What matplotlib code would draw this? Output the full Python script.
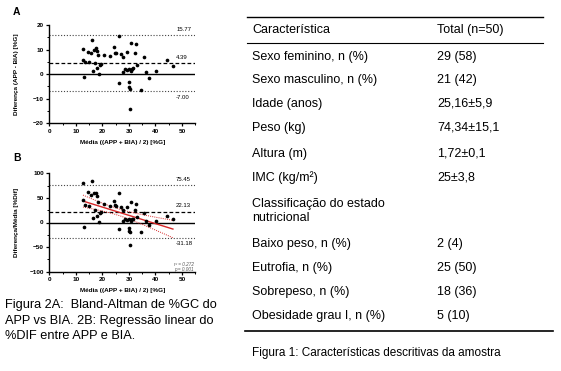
import numpy as np
import matplotlib.pyplot as plt
from matplotlib.lines import Line2D

plt.rcParams['font.family'] = ['Liberation Sans', 'DejaVu Sans']

# medias (APP + BIA) / 2, mesmo eixo x nos dois paineis
mean_pct = [12.7, 12.8, 13.1, 13.6, 14.5, 15.0, 15.6, 16.2, 16.8, 17.5,
            17.8, 16.6, 17.4, 18.1, 18.5, 18.7, 19.0, 19.5, 20.6, 22.9,
            24.4, 24.8, 25.3, 26.1, 26.1, 26.9, 27.9, 29.2, 27.9, 28.7,
            29.3, 29.9, 30.2, 30.5, 30.5, 30.7, 30.7, 31.1, 31.5, 32.3,
            32.8, 33.1, 34.7, 35.7, 36.6, 37.6, 40.1, 44.4, 46.6, 30.0]
# painel A: diferenca APP - BIA
diff_a = [10.3, 5.8, -1.3, 4.8, 8.9, 5.0, 8.8, 13.8, 10.0, 10.5,
          9.6, 1.4, 4.4, 2.4, 7.8, 0.1, 3.6, 4.0, 7.9, 7.5,
          10.9, 8.6, 8.6, 15.4, -3.6, 8.2, 6.9, 9.2, 1.0, 2.1,
          1.6, -3.2, -5.1, -6.0, -14.0, 12.8, 1.2, 2.0, 2.4, 8.5,
          12.2, 3.7, -6.6, 6.9, 1.0, -1.7, 1.4, 5.7, 3.3, 1.9]
# painel B: diferenca / media [%Dif]
diff_b = [81.1, 45.3, -9.9, 35.3, 61.4, 33.3, 56.4, 85.2, 59.5, 60.0,
          53.9, 8.4, 25.3, 13.3, 42.2, 0.5, 18.9, 20.5, 38.3, 32.8,
          44.7, 34.7, 34.0, 59.0, -13.8, 30.5, 24.7, 31.5, 3.6, 7.3,
          5.5, -10.7, -16.9, -19.7, -45.9, 41.7, 3.9, 6.4, 7.6, 26.3,
          37.2, 11.2, -19.0, 19.3, 2.7, -4.5, 3.5, 12.8, 7.1, 6.3]

limits_a = [15.77, 4.39, -7.00]
limits_b = [75.45, 22.13, -31.18]
labels_a = ['15.77', '4.39', '-7.00']
labels_b = ['75.45', '22.13', '-31.18']

row_names = ['Sexo feminino, n (%)', 'Sexo masculino, n (%)', 'Idade (anos)',
             'Peso (kg)', 'Altura (m)', 'IMC (kg/m²)',
             'Classificação do estado', 'nutricional', 'Baixo peso, n (%)',
             'Eutrofia, n (%)', 'Sobrepeso, n (%)', 'Obesidade grau I, n (%)']
row_values = ['29 (58)', '21 (42)', '25,16±5,9', '74,34±15,1', '1,72±0,1',
              '25±3,8', '', '', '2 (4)', '25 (50)', '18 (36)', '5 (10)']

caption_2 = ['Figura 2A:  Bland-Altman de %GC do',
             'APP vs BIA. 2B: Regressão linear do',
             '%DIF entre APP e BIA.']

W, H = 561, 371
fig = plt.figure(figsize=(W / 100, H / 100), dpi=100)


def px(x0, y0, x1, y1):
    return [x0 / W, 1 - y1 / H, (x1 - x0) / W, (y1 - y0) / H]


def bland(ax, y, limits, labels, ylim, step, ylabel):
    ax.scatter(mean_pct, y, s=7, c='black', linewidths=0, zorder=4)
    ax.axhline(0, color='black', lw=1.0, zorder=2)
    ax.axhline(limits[0], color='#444444', ls=(0, (1, 1.6)), lw=0.8)
    ax.axhline(limits[1], color='black', ls=(0, (3, 1.8)), lw=0.9)
    ax.axhline(limits[2], color='#444444', ls=(0, (1, 1.6)), lw=0.8)
    off = (ylim[1] - ylim[0]) * 0.035
    ax.text(47.8, limits[0] + off, labels[0], fontsize=4.3, va='bottom')
    ax.text(47.8, limits[1] + off, labels[1], fontsize=4.3, va='bottom')
    ax.text(47.8, limits[2] - off, labels[2], fontsize=4.3, va='top')
    ax.set_xlim(0, 55)
    ax.set_ylim(*ylim)
    ax.set_xticks(range(0, 51, 10))
    ax.set_xticks(range(5, 56, 10), minor=True)
    ax.set_yticks(np.arange(ylim[0], ylim[1] + 1, step))
    ax.set_yticks(np.arange(ylim[0] + step / 2, ylim[1], step), minor=True)
    for s in ['top', 'right']:
        ax.spines[s].set_visible(False)
    for s in ['left', 'bottom']:
        ax.spines[s].set_linewidth(1.0)
    ax.tick_params(which='major', length=2.5, width=0.9, pad=1.5, labelsize=4.6)
    ax.tick_params(which='minor', length=1.5, width=0.7)
    for t in ax.get_xticklabels() + ax.get_yticklabels():
        t.set_fontweight('bold')
    ax.set_xlabel('Média ((APP + BIA) / 2) [%G]', fontsize=4.6, fontweight='bold')
    ax.set_ylabel(ylabel, fontsize=4.6, fontweight='bold')
    ax.xaxis.set_label_coords(0.5, -0.17)
    ax.yaxis.set_label_coords(-0.21, 0.5)


ax_a = fig.add_axes(px(49.3, 25, 195.2, 123.3))
bland(ax_a, diff_a, limits_a, labels_a, (-20, 20), 10, 'Diferença (APP - BIA) [%G]')

ax_b = fig.add_axes(px(49.3, 173.3, 195.2, 271.7))
bland(ax_b, diff_b, limits_b, labels_b, (-100, 100), 50, 'Diferença/Média [%Dif]')

# regressao linear de %Dif contra a media, com banda de confianca
x = np.array(mean_pct)
y = np.array(diff_b)
slope, icpt = np.polyfit(x, y, 1)
xs = np.linspace(x.min(), x.max(), 100)
fit = icpt + slope * xs
res = y - (icpt + slope * x)
s = np.sqrt(np.sum(res ** 2) / (len(x) - 2))
se = s * np.sqrt(1 / len(x) + (xs - x.mean()) ** 2 / np.sum((x - x.mean()) ** 2))
ax_b.plot(xs, fit, color='#d62728', lw=1.0, zorder=3)
ax_b.plot(xs, fit + 2.01 * se, color='#d62728', lw=0.7, ls=(0, (1, 1.2)), zorder=3)
ax_b.plot(xs, fit - 2.01 * se, color='#d62728', lw=0.7, ls=(0, (1, 1.2)), zorder=3)
ax_b.text(54.5, -85, 'r² = 0.272', fontsize=3.3, style='italic', color='#555555',
          ha='right', va='center')
ax_b.text(54.5, -95, 'p = 0.001', fontsize=3.3, style='italic', color='#555555',
          ha='right', va='center')

fig.text(13 / W, 1 - 12 / H, 'A', fontsize=7.5, fontweight='bold', va='center')
fig.text(13 / W, 1 - 158 / H, 'B', fontsize=7.5, fontweight='bold', va='center')

for yy, line in zip([305, 320.7, 336.4], caption_2):
    fig.text(5 / W, 1 - yy / H, line, fontsize=9.2, va='center')

# tabela (coordenadas em pixels)
ov = fig.add_axes([0, 0, 1, 1])
ov.set_xlim(0, W)
ov.set_ylim(H, 0)
ov.axis('off')
ov.patch.set_alpha(0)
ov.add_line(Line2D([247, 543], [16.7, 16.7], color='black', lw=1.0))
ov.add_line(Line2D([247, 543], [42.5, 42.5], color='black', lw=0.8))
ov.add_line(Line2D([245, 553], [331, 331], color='black', lw=1.2))
ov.text(252.5, 30, 'Característica', fontsize=9, va='center')
ov.text(437, 30, 'Total (n=50)', fontsize=9, va='center')
row_y = [57, 80, 104, 128, 154, 178, 204, 218, 243.5, 267.5, 292, 316.5]
for yy, name, val in zip(row_y, row_names, row_values):
    ov.text(252.5, yy, name, fontsize=9, va='center')
    ov.text(437, yy, val, fontsize=9, va='center')
ov.text(252, 353, 'Figura 1: Características descritivas da amostra', fontsize=8.5, va='center')

fig.savefig('out.png', dpi=100)
